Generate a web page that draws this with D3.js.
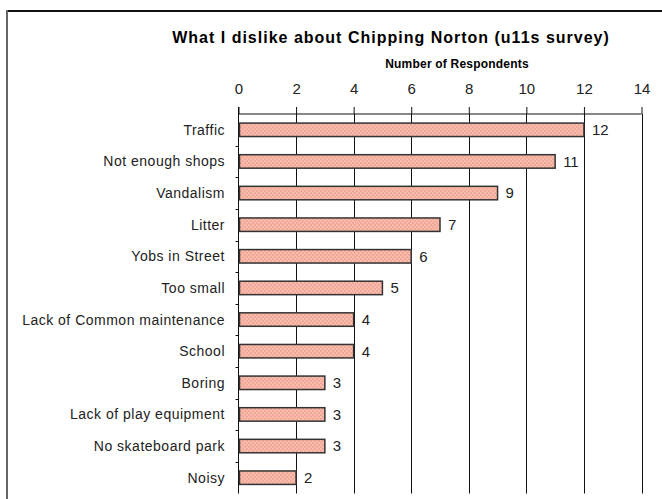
<!DOCTYPE html>
<html lang="en">
<head>
  <meta charset="UTF-8">
  <title>What I dislike about Chipping Norton</title>
  <script src="https://d3js.org/d3.v7.min.js"></script>
  <style>
    body {
      margin: 0;
      background: white;
      font-family: "Liberation Sans", Arial, sans-serif;
    }

    svg {
      display: block;
    }

    .tick-label, .value-label {
      font-size: 15px;
      fill: #222;
    }

    .cat-label {
      font-size: 14px;
      letter-spacing: 0.5px;
      fill: #222;
    }
  </style>
</head>
<body>
  <svg id="chart"></svg>
  <script>
    // survey answers, top to bottom
    const categories = [
      "Traffic",
      "Not enough shops",
      "Vandalism",
      "Litter",
      "Yobs in Street",
      "Too small",
      "Lack of Common maintenance",
      "School",
      "Boring",
      "Lack of play equipment",
      "No skateboard park",
      "Noisy"
    ];
    const respondents = [12, 11, 9, 7, 6, 5, 4, 4, 3, 3, 3, 2];
    const xTicks = [0, 2, 4, 6, 8, 10, 12, 14];

    const width = 662;
    const height = 499;
    const plotLeft = 238.5, plotRight = 641.5, plotTop = 114, plotBottom = 493.5;

    const data = categories.map((c, i) => ({ name: c, value: respondents[i] }));

    const svg = d3.select("#chart")
      .attr("width", width)
      .attr("height", height);

    // checkered pink fill like the old excel bars
    const defs = svg.append("defs");
    const pat = defs.append("pattern")
      .attr("id", "dots")
      .attr("width", 4)
      .attr("height", 4)
      .attr("patternUnits", "userSpaceOnUse");
    pat.append("rect").attr("width", 4).attr("height", 4).attr("fill", "#f2a69c");
    pat.append("rect").attr("x", 0).attr("y", 0).attr("width", 2).attr("height", 2).attr("fill", "#f6bea8");
    pat.append("rect").attr("x", 2).attr("y", 2).attr("width", 2).attr("height", 2).attr("fill", "#f6bea8");

    // frame (runs off the right and bottom edge)
    svg.append("line")
      .attr("x1", 6).attr("x2", width).attr("y1", 11).attr("y2", 11)
      .attr("stroke", "#111").attr("stroke-width", 2);
    svg.append("line")
      .attr("x1", 7).attr("x2", 7).attr("y1", 10).attr("y2", height)
      .attr("stroke", "#666").attr("stroke-width", 2);

    const x = d3.scaleLinear()
      .domain([0, 14])
      .range([plotLeft, plotRight]);

    const y = d3.scaleBand()
      .domain(categories)
      .range([plotTop, plotBottom])
      .paddingInner(0.574)
      .paddingOuter(0.287);

    // title
    svg.append("text")
      .attr("x", 391)
      .attr("y", 43)
      .attr("text-anchor", "middle")
      .style("font-size", "16px")
      .style("font-weight", "bold")
      .style("letter-spacing", "1px")
      .text("What I dislike about Chipping Norton (u11s survey)");

    svg.append("text")
      .attr("x", 457)
      .attr("y", 68)
      .attr("text-anchor", "middle")
      .style("font-size", "12px")
      .style("font-weight", "bold")
      .style("letter-spacing", "0.2px")
      .text("Number of Respondents");

    // gridlines
    svg.append("g")
      .selectAll("line")
      .data(xTicks.slice(1))
      .enter()
      .append("line")
      .attr("x1", d => Math.round(x(d)) + 0.5)
      .attr("x2", d => Math.round(x(d)) + 0.5)
      .attr("y1", plotTop)
      .attr("y2", plotBottom)
      .attr("stroke", "#111");

    // top axis
    const xAxis = d3.axisTop(x)
      .tickValues(xTicks)
      .tickSize(7)
      .tickPadding(13)
      .tickFormat(d3.format("d"));
    const gx = svg.append("g")
      .attr("transform", `translate(0, ${plotTop})`)
      .call(xAxis);
    gx.attr("font-family", null).attr("font-size", null);
    gx.select(".domain").attr("stroke", "#111").attr("d", `M${plotLeft},0H${plotRight}`);
    gx.selectAll(".tick line").attr("stroke", "#111");
    gx.selectAll(".tick text").attr("class", "tick-label");

    // left axis, ticks on band edges
    svg.append("line")
      .attr("x1", plotLeft).attr("x2", plotLeft)
      .attr("y1", plotTop - 7).attr("y2", plotBottom)
      .attr("stroke", "#111");
    svg.append("g")
      .selectAll("line")
      .data(categories.slice(1))
      .enter()
      .append("line")
      .attr("x1", plotLeft - 3)
      .attr("x2", plotLeft)
      .attr("y1", d => Math.round(y(d) - y.step() * y.paddingOuter()) + 0.5)
      .attr("y2", d => Math.round(y(d) - y.step() * y.paddingOuter()) + 0.5)
      .attr("stroke", "#111");

    // bars
    svg.append("g")
      .selectAll("rect")
      .data(data)
      .enter()
      .append("rect")
      .attr("x", x(0) + 1)
      .attr("y", d => y(d.name))
      .attr("width", d => x(d.value) - x(0) - 1)
      .attr("height", y.bandwidth())
      .attr("fill", "url(#dots)")
      .attr("stroke", "#333")
      .attr("stroke-width", 1.5);

    // value labels
    svg.append("g")
      .selectAll("text")
      .data(data)
      .enter()
      .append("text")
      .attr("class", "value-label")
      .attr("x", d => x(d.value) + 8)
      .attr("y", d => y(d.name) + y.bandwidth() / 2)
      .attr("dy", "0.36em")
      .text(d => d.value);

    // category labels
    svg.append("g")
      .selectAll("text")
      .data(data)
      .enter()
      .append("text")
      .attr("class", "cat-label")
      .attr("x", 225)
      .attr("y", d => y(d.name) + y.bandwidth() / 2)
      .attr("dy", "0.36em")
      .attr("text-anchor", "end")
      .text(d => d.name);
  </script>
</body>
</html>
